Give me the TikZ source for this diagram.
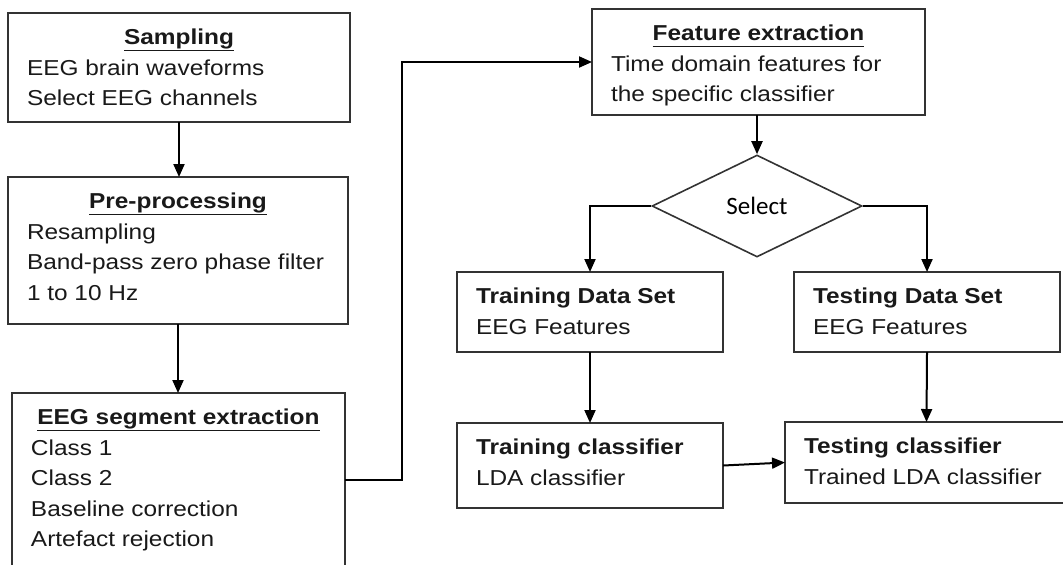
\documentclass[tikz,border=0pt]{standalone}
\usepackage{fontspec}
\setmainfont{Liberation Sans}[FakeStretch=1.13]
\newfontfamily\selfont{Carlito}
\usetikzlibrary{shapes.geometric,arrows.meta}
% underline with a thicker rule
\newcommand{\uln}[1]{\leavevmode\setbox0\hbox{#1}\hbox{\rlap{\copy0}\rule[-3.4pt]{\wd0}{0.8pt}}}
% box text: width, height, content
\newcommand{\blktext}[3]{\begin{minipage}[t][#2][t]{#1}#3\end{minipage}}
\newcommand{\ttl}[1]{{\centering\uln{\textbf{#1}}\par}}
\tikzset{
  blk/.style={draw=black!80, line width=.8pt, anchor=north west,
    inner xsep=9.5pt, inner ysep=8pt, outer sep=0pt,
    font=\fontsize{10.8}{15.25}\selectfont, text=black!90},
  arr/.style={-{Triangle[length=6.5pt,width=5.5pt]}, line width=1pt},
}
\begin{document}
\begin{tikzpicture}[x=.5pt,y=-.5pt]
\useasboundingbox (0,0) rectangle (1063,564);
% left column
\node[blk] (samp) at (8,13)
  {\blktext{152pt}{38.5pt}{\ttl{Sampling}EEG brain waveforms\\Select EEG channels}};
\node[blk] (pre) at (8,177)
  {\blktext{151pt}{57.5pt}{\ttl{Pre-processing}Resampling\\Band-pass zero phase filter\\1 to 10 Hz}};
\node[blk] (seg) at (12,393)
  {\blktext{147.5pt}{70.5pt}{\ttl{EEG segment extraction}Class 1\\Class 2\\Baseline correction\\Artefact rejection}};
% right part
\node[blk] (feat) at (592,9)
  {\blktext{147.5pt}{37pt}{\ttl{Feature extraction}Time domain features for\\the specific classifier}};
\node[diamond, draw=black!80, line width=.8pt, minimum width=105pt,
  minimum height=51pt, inner sep=0pt,
  font=\selfont\fontsize{12.5}{15}\selectfont] (sel) at (757,206) {\raisebox{-2pt}{Select}};
\node[blk] (trainds) at (457,272)
  {\blktext{114pt}{24pt}{\textbf{Training Data Set}\\EEG Features}};
\node[blk] (testds) at (794,272)
  {\blktext{114pt}{24pt}{\textbf{Testing Data Set}\\EEG Features}};
\node[blk] (traincl) at (457,423)
  {\blktext{114pt}{26.5pt}{\textbf{Training classifier}\\LDA classifier}};
\node[blk] (testcl) at (785,422)
  {\blktext{122.5pt}{24.5pt}{\textbf{Testing classifier}\\Trained LDA classifier}};
\coordinate (bend) at (402,0);
% arrows
\draw[arr] (samp.south) -- (samp.south |- pre.north);
\draw[arr] (pre.south) -- (pre.south |- seg.north);
\draw[arr] (seg.east) -| (bend |- feat.west) -- (feat.west);
\draw[arr] (sel.north |- feat.south) -- (sel.north);
\draw[arr] (sel.west) -| (trainds.north);
\draw[arr] (sel.east) -| (testds.north);
\draw[arr] (trainds.south) -- (traincl.north);
\draw[arr] (testds.south) -- (testcl.north);
\draw[arr] (traincl.east) -- (testcl.west);
\end{tikzpicture}
\end{document}
